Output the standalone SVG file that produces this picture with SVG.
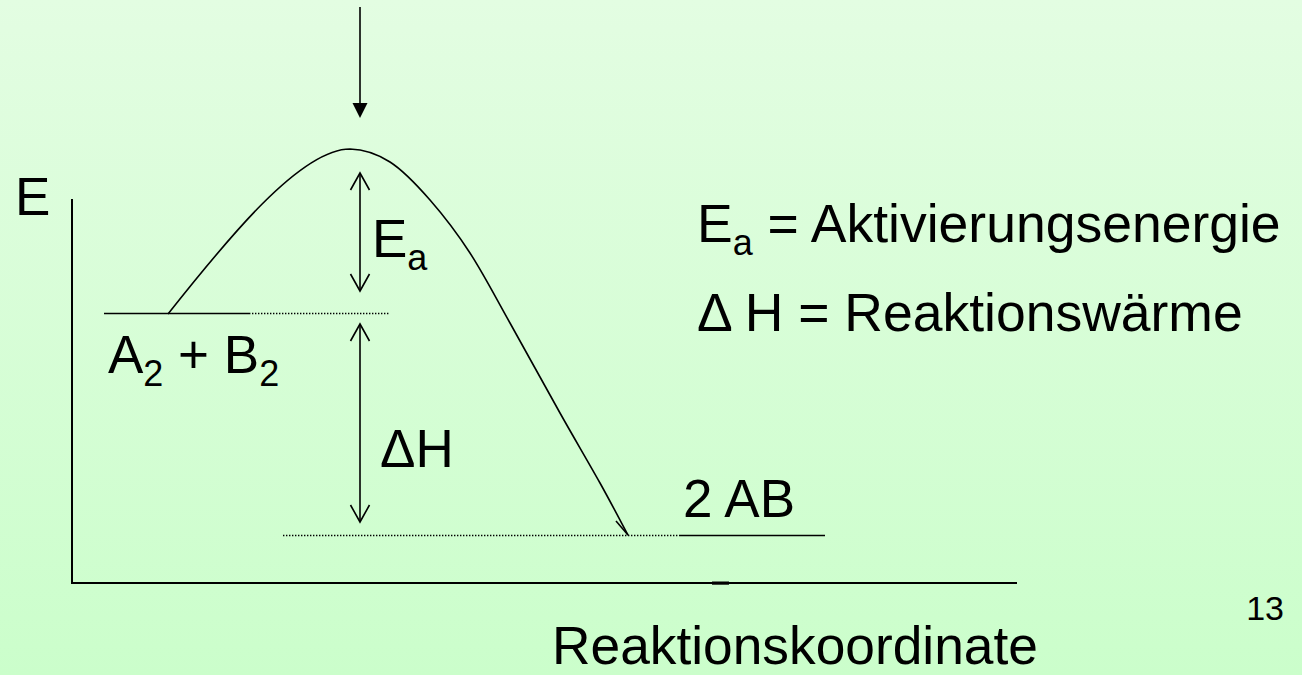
<svg xmlns="http://www.w3.org/2000/svg" width="1302" height="675" viewBox="0 0 1302 675">
<defs>
<linearGradient id="bg" x1="0" y1="0" x2="0" y2="1">
<stop offset="0" stop-color="#e3fde2"/>
<stop offset="1" stop-color="#cbfecb"/>
</linearGradient>
<marker id="open" markerWidth="24" markerHeight="24" refX="22" refY="12" orient="auto-start-reverse" markerUnits="userSpaceOnUse" viewBox="0 0 24 24">
<path d="M5,2.5 L22,12 L5,21.5" fill="none" stroke="#000" stroke-width="1.6"/>
</marker>
</defs>
<style>
.ln{stroke:#000;stroke-width:1.6;fill:none}
.ax{stroke:#000;stroke-width:2;fill:none}
.dot{stroke:#000;stroke-width:1.4;stroke-dasharray:1.4 1.6;fill:none}
.t{font-family:"Liberation Sans",Arial,sans-serif;font-size:53px;fill:#000}
.s{font-size:36px}
</style>
<rect width="1302" height="675" fill="url(#bg)"/>

<g id="axes">
<line class="ax" x1="72" y1="199" x2="72" y2="584"/>
<line class="ax" x1="71" y1="583" x2="1017" y2="583"/>
<rect x="712" y="581.5" width="17" height="3.2" fill="#000"/>
</g>

<g id="levels">
<line class="ln" x1="104" y1="313.5" x2="249" y2="313.5"/>
<line class="dot" x1="249" y1="313.5" x2="389" y2="313.5"/>
<line class="dot" x1="283" y1="535.5" x2="680" y2="535.5"/>
<line class="ln" x1="680" y1="535.5" x2="825" y2="535.5"/>
</g>

<g id="connectors">
<path class="ln" d="M168,314 C225,242 300,149 350,149 C362.2,149.3 376.7,153.5 390,162 C403.3,170.5 416.7,184.8 430,200 C443.3,215.2 456.7,232.5 470,253 C483.3,273.5 495,296.3 510,323 C525,349.7 545,386.3 560,413 C575,439.7 588.7,462.7 600,483 C611.3,503.3 623.3,526.3 628,535"/>
<line class="ln" x1="616" y1="521" x2="628" y2="535"/>
<line class="ln" x1="360" y1="7" x2="360" y2="106"/>
<polygon points="352.5,103 367.5,103 360,118" fill="#000"/>
<line class="ln" x1="360" y1="173" x2="360" y2="291" marker-start="url(#open)" marker-end="url(#open)"/>
<line class="ln" x1="360" y1="324" x2="360" y2="522" marker-start="url(#open)" marker-end="url(#open)"/>
</g>

<g id="labels">
<text class="t" x="15" y="215">E</text>
<text class="t" x="372" y="257">E<tspan class="s" dy="13">a</tspan></text>
<text class="t" x="108" y="373">A<tspan class="s" dy="13">2</tspan><tspan dy="-13"> + B</tspan><tspan class="s" dy="13">2</tspan></text>
<text class="t" x="380" y="467">ΔH</text>
<text class="t" x="683" y="517">2 AB</text>
<text class="t" x="697" y="242" style="font-size:53.5px">E<tspan class="s" dy="13">a</tspan><tspan dy="-13"> = Aktivierungsenergie</tspan></text>
<text class="t" x="697" y="331" style="font-size:53.5px">Δ H = Reaktionswärme</text>
<text class="t" x="552" y="664" style="font-size:53.3px">Reaktionskoordinate</text>
<text class="t" x="1284" y="620" text-anchor="end" style="font-size:34px">13</text>
</g>
</svg>
